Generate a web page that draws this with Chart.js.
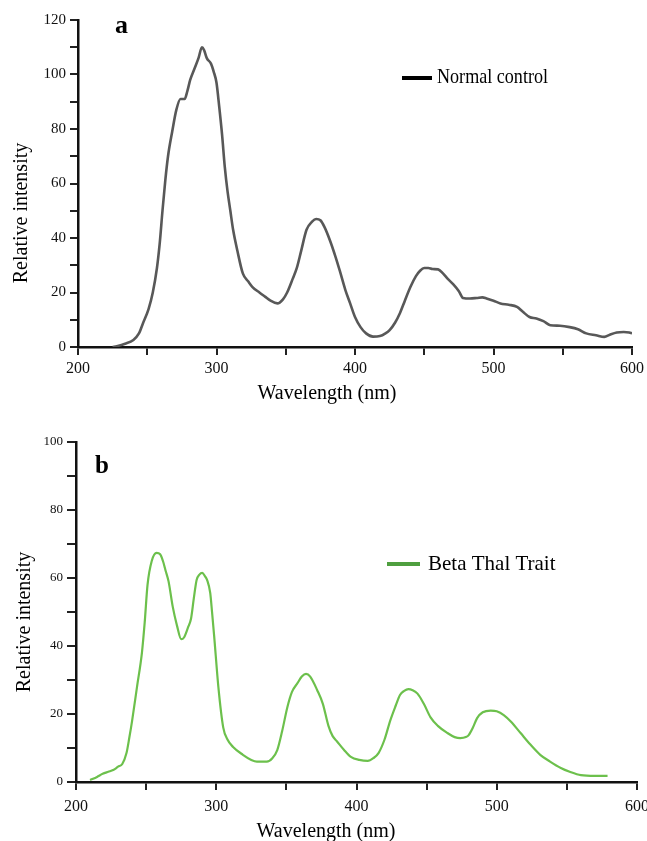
<!DOCTYPE html>
<html>
<head>
<meta charset="utf-8">
<script src="https://cdn.jsdelivr.net/npm/chart.js@4.4.1/dist/chart.umd.min.js"></script>
<style>
  html, body { margin: 0; padding: 0; background: #fff; }
  canvas { display: block; }
</style>
</head>
<body>
<canvas id="chartA" width="647" height="415"></canvas>
<canvas id="chartB" width="647" height="426"></canvas>
<script>
/* Fluorescence spectra, panels a and b */

const waveA = [225, 228, 234, 240, 244, 247, 251, 254, 257, 259, 261, 263, 265, 268, 271, 274, 277, 279, 281, 284, 287, 289.5, 291, 293, 296, 298, 300, 302, 304, 306, 308, 310, 312, 315, 319, 323, 326, 331, 335, 339, 344, 348, 351, 355, 358, 361, 365, 369, 372, 375, 378, 382, 386, 389, 393, 396.5, 400, 404, 408, 413, 418, 422, 425, 429, 432.5, 436, 440, 444, 447, 450, 453, 456, 460, 463.5, 467, 471, 475, 478, 483, 488, 492, 495, 500, 505, 511, 517, 521, 526, 531, 536, 541, 548, 555, 561, 567, 574, 580, 584, 589, 594, 598, 600];
const intensityA = [0, 0.3, 1.2, 2.6, 5, 8.8, 14, 20, 29, 38, 50, 61, 70, 79, 87, 91, 91, 94, 98, 102, 106, 110, 109, 106, 104, 101, 97, 88, 78, 66, 57, 50, 43, 35.5, 27, 24, 22, 20, 18.5, 17, 16, 17.5, 20, 25, 29, 35, 43, 46, 47, 46.5, 44, 39, 33, 28, 21, 16, 11, 7.3, 5, 3.8, 4, 5, 6.2, 9, 12.5, 17, 22, 26, 28, 29, 29, 28.6, 28.5, 27, 25, 23, 20.5, 18, 17.8, 18, 18.2, 17.8, 17, 16, 15.5, 14.7, 13, 11, 10.5, 9.5, 8, 7.8, 7.3, 6.5, 5, 4.3, 3.7, 4.5, 5.3, 5.5, 5.3, 5];

const waveB = [210, 215, 219, 223, 226.5, 230, 233, 236, 238, 240, 243.5, 247, 249, 251, 254, 257.5, 260, 262, 264, 266, 269, 272, 275, 277, 280, 282, 284, 286, 288, 290, 292, 293.5, 295.7, 297, 298.5, 301.5, 305, 308, 312, 319, 325, 329, 336, 340, 343.5, 347, 350.7, 354, 357.8, 361, 364, 367, 372, 376, 380, 383, 386, 391, 396, 402, 408, 412, 415.7, 420, 424, 428, 431, 434, 437, 440, 443.5, 448, 452.8, 458, 464.8, 470, 474, 478, 480, 483, 486, 490, 495.7, 500, 505, 510, 517, 524, 531, 538, 545.7, 552, 560, 570, 579];
const intensityB = [0.6, 1.5, 2.4, 3, 3.5, 4.5, 5.3, 8.5, 13, 18, 28, 38, 47, 58, 65, 67.4, 67, 65, 62, 59, 51.5, 46, 42, 42.5, 45.6, 48, 54, 59.4, 61, 61.5, 60.5, 59.4, 55.6, 50, 43, 28, 16, 12.5, 10.3, 8, 6.5, 6, 6, 7, 9.4, 15, 22, 26.5, 29, 31, 31.8, 31, 27, 23, 16.5, 13.5, 12, 9.5, 7.4, 6.5, 6.2, 7, 8.5, 12.5, 18, 22.5, 25.6, 26.8, 27.3, 27, 26, 23, 19, 16.5, 14.4, 13.2, 12.9, 13.2, 13.8, 16, 18.8, 20.5, 21, 20.8, 19.7, 17.8, 14.4, 11, 8, 6, 4.1, 3, 2, 1.8, 1.8];

const xTickLabels = [200, 300, 400, 500, 600];
const yTickLabelsA = [0, 20, 40, 60, 80, 100, 120];
const yTickLabelsB = [0, 20, 40, 60, 80, 100];

const SERIF = '"Liberation Serif", "Times New Roman", serif';

// panel letter, legend and axis titles drawn over the chart
const annotations = {
  id: "annotations",
  afterDraw(chart, args, o) {
    const ctx = chart.ctx;
    ctx.save();
    ctx.fillStyle = "#000";
    ctx.textAlign = "left";
    ctx.textBaseline = "alphabetic";

    ctx.font = `bold ${o.panel.size}px ${SERIF}`;
    ctx.fillText(o.panel.text, o.panel.x, o.panel.y);

    ctx.strokeStyle = o.legend.color;
    ctx.lineWidth = 4;
    ctx.beginPath();
    ctx.moveTo(o.legend.x1, o.legend.y);
    ctx.lineTo(o.legend.x2, o.legend.y);
    ctx.stroke();
    ctx.font = `${o.legend.size}px ${SERIF}`;
    ctx.fillText(o.legend.text, o.legend.tx, o.legend.ty, o.legend.maxWidth);

    ctx.font = `${o.xTitle.size}px ${SERIF}`;
    ctx.textAlign = "center";
    ctx.fillText(o.xTitle.text, o.xTitle.x, o.xTitle.y);

    ctx.translate(o.yTitle.x, o.yTitle.y);
    ctx.rotate(-Math.PI / 2);
    ctx.textBaseline = "middle";
    ctx.font = `${o.yTitle.size}px ${SERIF}`;
    ctx.fillText(o.yTitle.text, 0, 0);
    ctx.restore();
  },
};

function buildSpectrum(id, waves, values, cfg) {
  const ctx = document.getElementById(id).getContext("2d");
  return new Chart(ctx, {
    type: "line",
    data: {
      datasets: [
        {
          data: waves.map((w, i) => ({ x: w, y: values[i] })),
          borderColor: cfg.lineColor,
          borderWidth: cfg.lineWidth,
          pointRadius: 0,
          fill: false,
          cubicInterpolationMode: "monotone",
        },
      ],
    },
    options: {
      responsive: false,
      animation: false,
      devicePixelRatio: 1,
      layout: { padding: cfg.padding },
      plugins: {
        legend: { display: false },
        tooltip: { enabled: false },
        annotations: cfg.annot,
      },
      scales: {
        x: {
          type: "linear",
          min: 200,
          max: 600,
          afterFit: (s) => {
            s.height = cfg.xHeight;
            // let layout padding decide the right edge, labels may overflow
            s.paddingLeft = 0;
            s.paddingRight = 0;
          },
          border: { display: true, color: "#111", width: 2.5 },
          grid: { drawOnChartArea: false, drawTicks: true, tickLength: 8, color: "#222", lineWidth: 2 },
          ticks: {
            stepSize: 50,
            autoSkip: false,
            maxRotation: 0,
            padding: cfg.xPad,
            color: "#111",
            font: { family: SERIF, size: 16 },
            callback: (v) => (xTickLabels.includes(v) ? v : ""),
          },
        },
        y: {
          min: 0,
          max: cfg.yMax,
          afterFit: (s) => {
            s.width = cfg.yWidth;
            s.paddingTop = 0;
            s.paddingBottom = 0;
          },
          border: { display: true, color: "#111", width: 2.5 },
          grid: { drawOnChartArea: false, drawTicks: true, tickLength: cfg.yTick, color: "#222", lineWidth: 2 },
          ticks: {
            stepSize: 10,
            autoSkip: false,
            padding: 4,
            color: "#111",
            font: { family: SERIF, size: cfg.yFont },
            callback: (v) => (cfg.yLabels.includes(v) ? v : ""),
          },
        },
      },
    },
    plugins: [annotations],
  });
}

document.addEventListener("DOMContentLoaded", () => {
  buildSpectrum("chartA", waveA, intensityA, {
    lineColor: "#585858",
    lineWidth: 2.6,
    padding: { top: 20, right: 15, left: 0, bottom: 0 },
    xHeight: 68,
    yWidth: 78,
    xPad: 4,
    yTick: 8,
    yFont: 15,
    yMax: 120,
    yLabels: yTickLabelsA,
    annot: {
      panel: { text: "a", size: 26, x: 115, y: 33 },
      legend: { text: "Normal control", color: "#000", x1: 402, x2: 432, y: 78, tx: 437, ty: 83, size: 21, maxWidth: 111 },
      xTitle: { text: "Wavelength (nm)", size: 20, x: 327, y: 399 },
      yTitle: { text: "Relative intensity", size: 20, x: 22, y: 213 },
    },
  });

  buildSpectrum("chartB", waveB, intensityB, {
    lineColor: "#6cc04c",
    lineWidth: 2.2,
    padding: { top: 27, right: 10, left: 0, bottom: 0 },
    xHeight: 59,
    yWidth: 76,
    xPad: 7,
    yTick: 9,
    yFont: 13,
    yMax: 100,
    yLabels: yTickLabelsB,
    annot: {
      panel: { text: "b", size: 25, x: 95, y: 58 },
      legend: { text: "Beta Thal Trait", color: "#4f9f3f", x1: 387, x2: 420, y: 149, tx: 428, ty: 155, size: 21, maxWidth: 128 },
      xTitle: { text: "Wavelength (nm)", size: 20, x: 326, y: 422 },
      yTitle: { text: "Relative intensity", size: 20, x: 25, y: 207 },
    },
  });
});
</script>
</body>
</html>
